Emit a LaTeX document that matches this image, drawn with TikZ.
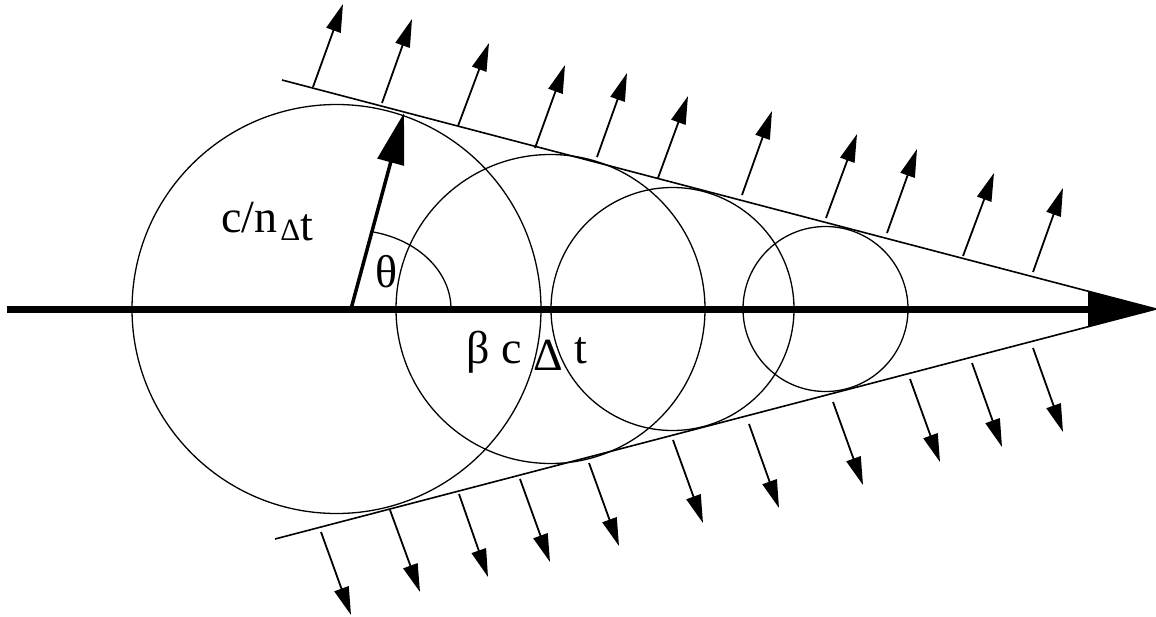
\documentclass[tikz,border=0pt]{standalone}
\usepackage{fontspec}
\setmainfont{Liberation Serif}
\usetikzlibrary{arrows.meta}
\begin{document}
\begin{tikzpicture}[x=1pt,y=-1pt,
  circ/.style={line width=1.3pt},
  conel/.style={line width=1.6pt},
  ray/.style={line width=1.8pt,-{Triangle[length=28pt,width=15pt]}},
  lbl/.style={inner sep=0pt,anchor=base west,font=\fontsize{46}{50}\selectfont}]
\useasboundingbox (0,0) rectangle (1156,616);
% key points
\coordinate (apex) at (1156,309);
\coordinate (axstart) at (7,309);
\coordinate (upend) at (282,80);
\coordinate (loend) at (275,539);
\coordinate (c1) at (336.5,309);
\coordinate (c2) at (550.5,309);
\coordinate (c3) at (672.5,309);
\coordinate (c4) at (825.5,309);
\coordinate (rstart) at (351,309);
\coordinate (rtip) at (404,113);
% circles
\draw[circ] (c1) circle[radius=204.5pt];
\draw[circ] (c2) circle[radius=154.5pt];
\draw[circ] (c3) circle[radius=121.5pt];
\draw[circ] (c4) circle[radius=82.5pt];
% cone lines
\draw[conel] (upend) -- (apex);
\draw[conel] (loend) -- (apex);
% angle arc
\draw[circ] (451,309) arc[start angle=0,end angle=77,x radius=100pt,y radius=79pt];
% radius arrow
\draw[line width=3.5pt,-{Triangle[length=51pt,width=27pt]}] (rstart) -- (rtip);
% axis
\draw[line width=7pt,-{Triangle[length=68pt,width=34pt]}] (axstart) -- (apex);
% upper rays
\foreach \bx/\by/\tx/\ty in {313/87/343/4, 382/103/412/19, 458/126/489/43,
  535/148/565/65, 597/157/627/73, 658/178/688/96, 742/195/772/111,
  826/218/857/134, 887/233/917/149, 963/256/994/173, 1033/272/1063/188}
  \draw[ray] (\bx,\by) -- (\tx,\ty);
% lower rays
\foreach \bx/\by/\tx/\ty in {321/532/351/615, 390/510/420/592, 459/494/488/577,
  520/479/550/562, 589/463/619/546, 673/440/703/523, 749/424/779/508,
  833/402/863/485, 910/379/940/462, 972/363/1002/447, 1033/348/1063/432}
  \draw[ray] (\bx,\by) -- (\tx,\ty);
% labels
\node[lbl] (lcn) at (221,232) {c/n\kern3pt\raisebox{-8pt}{{\fontsize{31}{33}\selectfont Δ}t}};
\node[lbl] (lth) at (375,287) {θ};
\node[lbl] (lbc) at (466,363) {β c \raisebox{-7.5pt}{Δ} t};
\end{tikzpicture}
\end{document}
